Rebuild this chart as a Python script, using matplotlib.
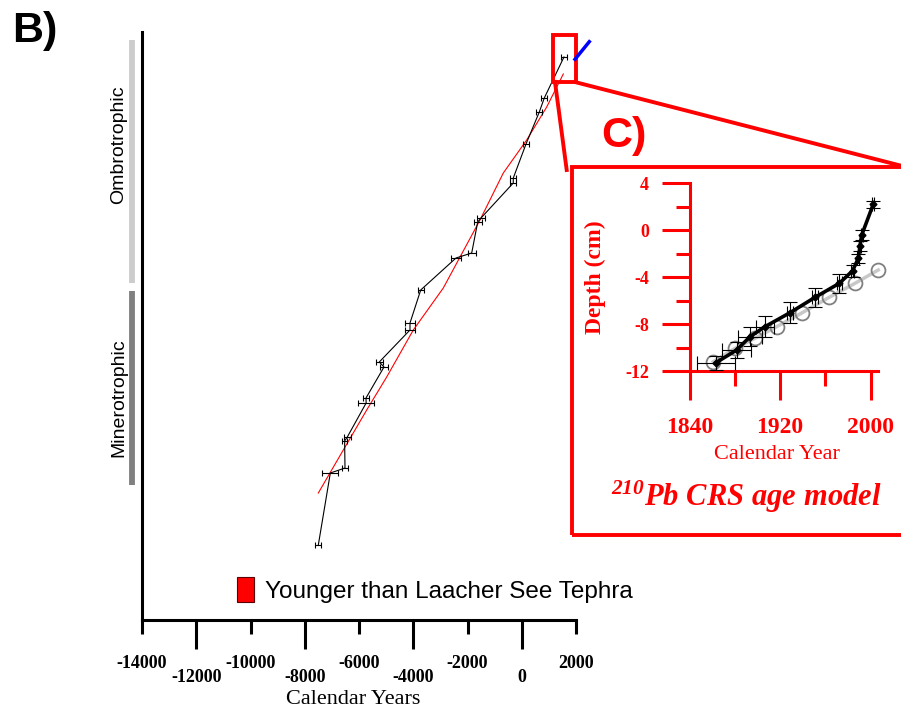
import numpy as np
import matplotlib
matplotlib.use("Agg")
import matplotlib.pyplot as plt
from matplotlib.lines import Line2D
from matplotlib.patches import Patch, Rectangle

plt.rcParams["axes.unicode_minus"] = False
plt.rcParams["mathtext.fontset"] = "custom"
plt.rcParams["mathtext.rm"] = "Liberation Serif:italic:bold"
plt.rcParams["mathtext.it"] = "Liberation Serif:italic:bold"

SERIF = "Liberation Serif"
SANS = "Liberation Sans"

# --- B) peat core: dated levels (calendar year, depth) with 1-sigma ranges
core_year = [-7500, -7057, -6516, -6530, -6431, -5737, -5742, -5078, -5252, -4120, -4120,
             -3725, -2424, -1845, -1624, -1502, -312, -312, 157, 647, 831, 1557]
core_depth = [512, 440, 435, 408, 404, 370, 365, 334, 329, 297, 290,
              257, 225, 220, 189, 185, 150, 145, 111, 79, 65, 24]
core_err = [110, 300, 110, 100, 120, 290, 100, 150, 120, 180, 180,
            110, 200, 150, 150, 150, 110, 110, 120, 110, 110, 110]

# age-depth model
model_year = [-7500, -6579, -5716, -4979, -3998, -2892, -1539, -680, 182, 920, 1532]
model_depth = [460, 417, 377, 344, 297, 255, 187, 140, 107, 74, 41]

# peat phases (depth ranges)
phase_names = ["Ombrotrophic", "Minerotrophic"]
phase_top = [7, 258]
phase_bottom = [250, 452]
phase_label_depth = [112, 365]
phase_colors = ["#cccccc", "#808080"]

main_ticks_long = [-12000, -8000, -4000, 0]
main_ticks_short = [-14000, -10000, -6000, -2000, 2000]

# --- C) 210Pb CRS age model
pb_year = [1863.4, 1881.7, 1893.4, 1906.7, 1928.8, 1950.9, 1972.3, 1984.1, 1989.1, 1990.6, 1992.1, 2002.3]
pb_depth = [-11.29, -10.21, -9.08, -8.22, -7.03, -5.72, -4.53, -3.45, -2.39, -1.35, -0.41, 2.21]
pb_xerr = [17, 13, 11, 8, 3, 3, 2, 1.5, 1, 1, 1, 1]
pb_yerr = [0.6, 0.7, 0.8, 0.9, 0.9, 0.8, 0.8, 0.5, 0.4, 0.4, 0.4, 0.3]

alt_year = [1861.0, 1880.2, 1897.8, 1917.0, 1939.6, 1963.4, 1986.1, 2006.7]
alt_depth = [-11.21, -10.07, -9.21, -8.22, -7.03, -5.72, -4.53, -3.39]

W, H = 901, 711
fig = plt.figure(figsize=(W / 100, H / 100), dpi=100)


def fx(x):
    return x / W


def fy(y):
    return 1 - y / H


# ---------------- main panel
ax = fig.add_axes([fx(142), fy(620), fx(576) - fx(142), fy(32) - fy(620)])
ax.set_xlim(-14000, 2000)
ax.set_ylim(587, -1)
for s in ["top", "right"]:
    ax.spines[s].set_visible(False)
for s in ["left", "bottom"]:
    ax.spines[s].set_linewidth(2.2)
ax.set_yticks([])

ax.plot(model_year, model_depth, color="red", lw=0.8, zorder=2)
ax.errorbar(core_year, core_depth, xerr=core_err, color="black", lw=0.8,
            elinewidth=0.8, capsize=2.2, capthick=0.8, zorder=3)

for name, top, bot, mid, col in zip(phase_names, phase_top, phase_bottom,
                                    phase_label_depth, phase_colors):
    ax.plot([-14387, -14387], [top, bot], color=col, lw=4.2,
            solid_capstyle="butt", clip_on=False)
    ax.text(-14860, mid, name, rotation=90, ha="center", va="center",
            fontsize=14, family=SANS)

ax.set_xticks(main_ticks_long, [f"{t:d}" for t in main_ticks_long])
ax.set_xticks(main_ticks_short, [f"{t:d}" for t in main_ticks_short], minor=True)
ax.tick_params(axis="x", which="major", length=21, width=2.2, pad=14)
ax.tick_params(axis="x", which="minor", length=10, width=2.2, pad=15)
for lab in ax.get_xticklabels(which="both"):
    lab.set_family(SERIF)
    lab.set_fontweight("bold")
    lab.set_fontsize(13)
ax.set_xlabel("Calendar Years", family=SERIF, fontsize=16)
ax.xaxis.set_label_coords((353 - 142) / 434, (620 - 699) / 588)
ax.xaxis.label.set_va("center")

ax.legend(handles=[Patch(facecolor="red", edgecolor="#5a0000", lw=0.8,
                         label="Younger than Laacher See Tephra")],
          loc="center left", bbox_to_anchor=((237 - 142) / 434, (620 - 590) / 588),
          frameon=False, borderpad=0, borderaxespad=0, handlelength=0.7,
          handleheight=1.2, handletextpad=0.45, prop={"family": SANS, "size": 17.5})

fig.text(fx(12), fy(31), "B)", fontsize=31, fontweight="bold", family=SANS,
         ha="left", va="center")

# ---------------- zoom decorations
red_lw = 2.8
fig.add_artist(Rectangle((fx(553.3), fy(82.3)), fx(576) - fx(553.3), fy(35) - fy(82.3),
                         transform=fig.transFigure, fill=False, ec="red", lw=red_lw))
fig.add_artist(Rectangle((fx(571.7), fy(535)), fx(915) - fx(571.7), fy(166.7) - fy(535),
                         transform=fig.transFigure, fill=False, ec="red", lw=red_lw))
fig.add_artist(Line2D([fx(576), fx(901)], [fy(82.3), fy(165.7)],
                      transform=fig.transFigure, color="red", lw=red_lw))
fig.add_artist(Line2D([fx(555), fx(566.7)], [fy(82), fy(170)],
                      transform=fig.transFigure, color="red", lw=red_lw))
fig.add_artist(Line2D([fx(575), fx(589.3)], [fy(59.3), fy(41.7)],
                      transform=fig.transFigure, color="blue", lw=2.5))
fig.text(fx(624), fy(136), "C)", fontsize=31, fontweight="bold", family=SANS,
         color="red", ha="center", va="center")

# ---------------- inset panel
ins = fig.add_axes([fx(689.5), fy(371), fx(878) - fx(689.5), fy(183.3) - fy(371)])
ins.set_xlim(1840, 2006.5)
ins.set_ylim(-12, 4)
ins.patch.set_alpha(0)
for s in ["top", "right"]:
    ins.spines[s].set_visible(False)
for s in ["left", "bottom"]:
    ins.spines[s].set_linewidth(2.2)
    ins.spines[s].set_color("red")

ins.plot(alt_year, alt_depth, color="#c8c8c8", lw=2.5, zorder=2, clip_on=False)
ins.plot(alt_year, alt_depth, "o", mfc="none", mec="#808080", ms=10, mew=1.3,
         zorder=3, clip_on=False)
ins.errorbar(pb_year, pb_depth, xerr=pb_xerr, yerr=pb_yerr, color="black", lw=2.6,
             marker="D", ms=3.5, elinewidth=0.8, capsize=5, capthick=0.8,
             zorder=4, clip_on=False)

ins.set_yticks([-12, -8, -4, 0, 4])
ins.set_yticks([-10, -6, -2, 2], minor=True)
ins.set_xticks([1840, 1920, 2000])
ins.set_xticks([1880, 1960], minor=True)
ins.tick_params(axis="y", which="major", length=20, width=2.2, color="red", pad=9,
                labelcolor="red")
ins.tick_params(axis="y", which="minor", length=10, width=2.2, color="red")
ins.tick_params(axis="x", which="major", length=21, width=2.2, color="red", pad=12,
                labelcolor="red")
ins.tick_params(axis="x", which="minor", length=11, width=2.2, color="red")
for lab in ins.get_yticklabels():
    lab.set_family(SERIF)
    lab.set_fontweight("bold")
    lab.set_fontsize(13)
for lab in ins.get_xticklabels():
    lab.set_family(SERIF)
    lab.set_fontweight("bold")
    lab.set_fontsize(17)

fig.text(fx(595), fy(277), "Depth (cm)", rotation=90, family=SERIF, fontweight="bold",
         fontsize=17, color="red", ha="center", va="center")
fig.text(fx(777), fy(454), "Calendar Year", family=SERIF, fontsize=16, color="red",
         ha="center", va="center")
fig.text(fx(746), fy(497), r"$^{210}Pb\ CRS\ age\ model$", fontsize=22, color="red",
         ha="center", va="center")

fig.savefig("out.png", dpi=100)
